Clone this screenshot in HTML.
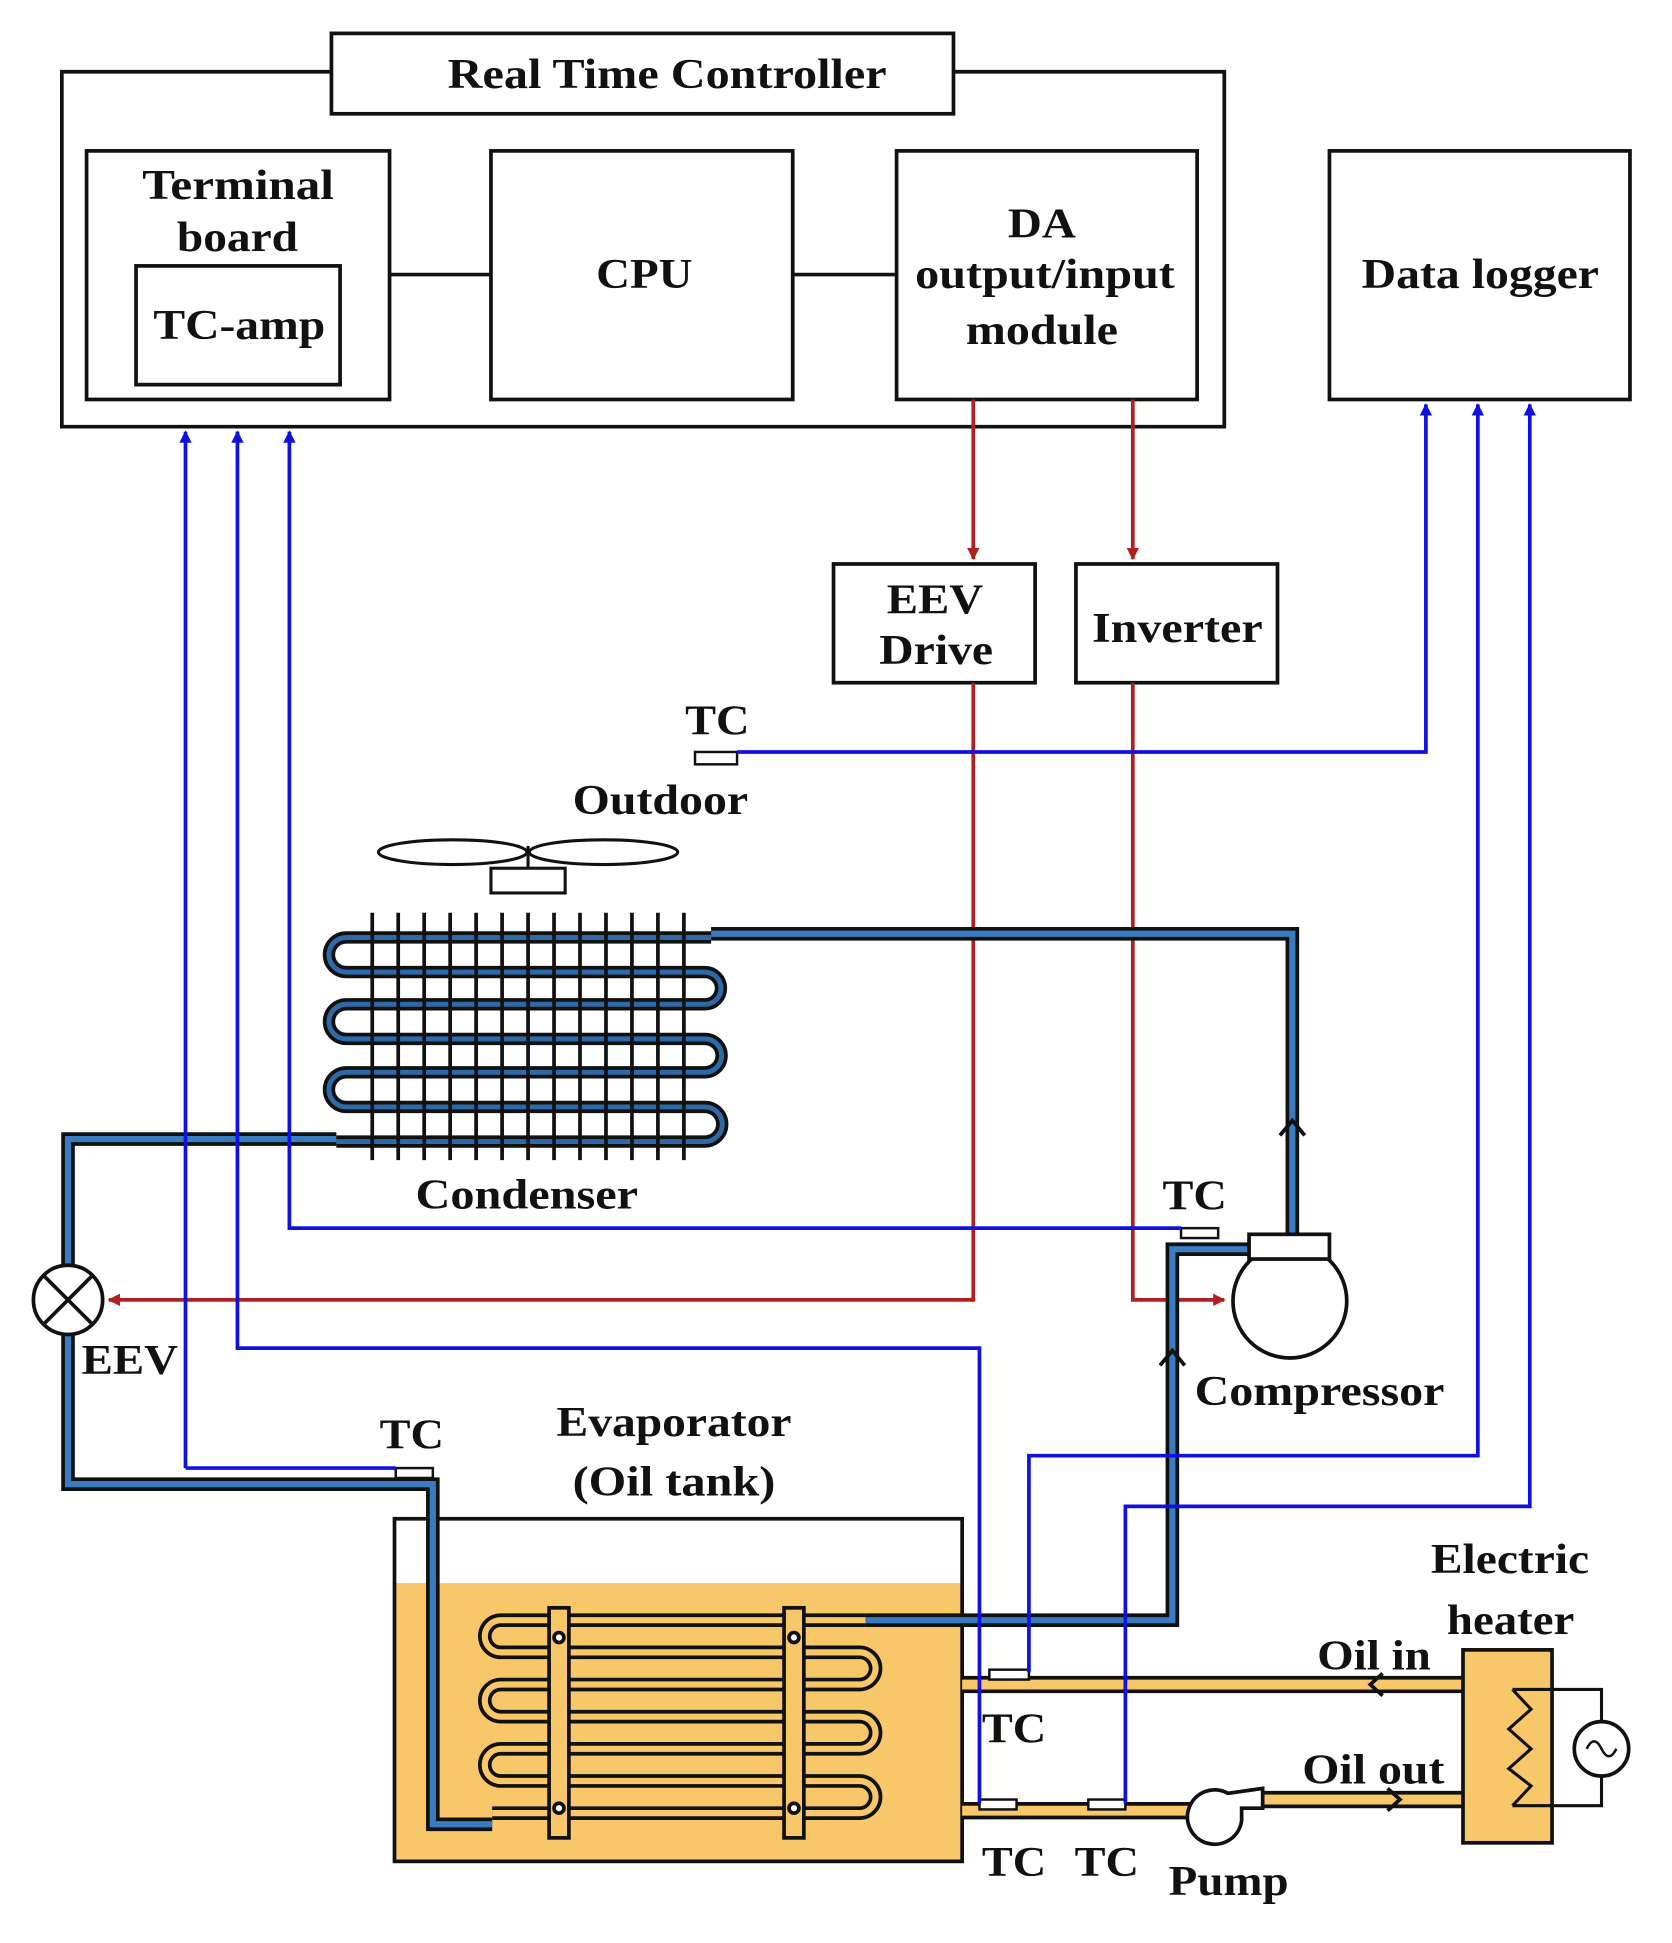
<!DOCTYPE html>
<html><head><meta charset="utf-8"><style>
html,body{margin:0;padding:0;background:#fff;}
svg{display:block;}
text{font-family:"Liberation Serif",serif;font-weight:bold;fill:#111;}
</style></head><body>
<svg width="1672" height="1943" viewBox="0 0 1352 1571" preserveAspectRatio="none" xmlns="http://www.w3.org/2000/svg">
<defs>
<marker id="ab" markerWidth="10" markerHeight="10" refX="9" refY="5" orient="auto" markerUnits="userSpaceOnUse"><path d="M0,0 L10,5 L0,10 Z" fill="#1010e0"/></marker>
<marker id="ar" markerWidth="10" markerHeight="10" refX="9" refY="5" orient="auto" markerUnits="userSpaceOnUse"><path d="M0,0 L10,5 L0,10 Z" fill="#b02020"/></marker>
</defs>
<g fill="none" stroke="#111" stroke-width="3">
<path d="M268,58 H50 V345 H990 V58 H771"/>
<rect x="268" y="27" width="503" height="65"/>
<rect x="70" y="122" width="245" height="201"/>
<rect x="110" y="215" width="165" height="96"/>
<rect x="397" y="122" width="244" height="201"/>
<rect x="725" y="122" width="243" height="201"/>
<rect x="1075" y="122" width="243" height="201"/>
<path d="M315,222 H397 M641,222 H725"/>
<rect x="674" y="456" width="163" height="96"/>
<rect x="870" y="456" width="163" height="96"/>
</g>
<g font-size="34" lengthAdjust="spacingAndGlyphs">
<text x="362" y="71" textLength="355" lengthAdjust="spacingAndGlyphs">Real Time Controller</text>
<text x="115" y="161" textLength="155" lengthAdjust="spacingAndGlyphs">Terminal</text>
<text x="143" y="203" textLength="98" lengthAdjust="spacingAndGlyphs">board</text>
<text x="124" y="274" textLength="139" lengthAdjust="spacingAndGlyphs">TC-amp</text>
<text x="482" y="233" textLength="78" lengthAdjust="spacingAndGlyphs">CPU</text>
<text x="815" y="192" textLength="55" lengthAdjust="spacingAndGlyphs">DA</text>
<text x="740" y="233" textLength="210" lengthAdjust="spacingAndGlyphs">output/input</text>
<text x="781" y="278" textLength="123" lengthAdjust="spacingAndGlyphs">module</text>
<text x="1101" y="233" textLength="192" lengthAdjust="spacingAndGlyphs">Data logger</text>
<text x="717" y="496" textLength="78" lengthAdjust="spacingAndGlyphs">EEV</text>
<text x="711" y="537" textLength="92" lengthAdjust="spacingAndGlyphs">Drive</text>
<text x="883" y="519" textLength="138" lengthAdjust="spacingAndGlyphs">Inverter</text>
<text x="554" y="594" textLength="52" lengthAdjust="spacingAndGlyphs">TC</text>
<text x="463" y="658" textLength="142" lengthAdjust="spacingAndGlyphs">Outdoor</text>
<text x="336" y="977" textLength="180" lengthAdjust="spacingAndGlyphs">Condenser</text>
<text x="940" y="978" textLength="52" lengthAdjust="spacingAndGlyphs">TC</text>
<text x="66" y="1111" textLength="78" lengthAdjust="spacingAndGlyphs">EEV</text>
<text x="966" y="1136" textLength="202" lengthAdjust="spacingAndGlyphs">Compressor</text>
<text x="307" y="1171" textLength="52" lengthAdjust="spacingAndGlyphs">TC</text>
<text x="450" y="1161" textLength="190" lengthAdjust="spacingAndGlyphs">Evaporator</text>
<text x="463" y="1209" textLength="164" lengthAdjust="spacingAndGlyphs">(Oil tank)</text>
<text x="1157" y="1272" textLength="128" lengthAdjust="spacingAndGlyphs">Electric</text>
<text x="1170" y="1321" textLength="103" lengthAdjust="spacingAndGlyphs">heater</text>
<text x="1065" y="1350" textLength="92" lengthAdjust="spacingAndGlyphs">Oil in</text>
<text x="1053" y="1442" textLength="115" lengthAdjust="spacingAndGlyphs">Oil out</text>
<text x="794" y="1409" textLength="52" lengthAdjust="spacingAndGlyphs">TC</text>
<text x="794" y="1517" textLength="52" lengthAdjust="spacingAndGlyphs">TC</text>
<text x="869" y="1517" textLength="52" lengthAdjust="spacingAndGlyphs">TC</text>
<text x="945" y="1532" textLength="97" lengthAdjust="spacingAndGlyphs">Pump</text>
</g>
<!-- red lines -->
<g fill="none" stroke="#b02020" stroke-width="3">
<path d="M787,323 V452" marker-end="url(#ar)"/>
<path d="M916,323 V452" marker-end="url(#ar)"/>
<path d="M787,552 V1051 H88" marker-end="url(#ar)"/>
<path d="M916,552 V1051 H990" marker-end="url(#ar)"/>
</g>
<!-- oil tank -->
<rect x="319" y="1280" width="459" height="225" fill="#f7c76a"/>
<rect x="319" y="1228" width="459" height="277" fill="none" stroke="#111" stroke-width="3"/>
<!-- evaporator coil -->
<g fill="none">
<path d="M700,1310 H405 A13,13 0 0 0 405,1336 H695 A13,13 0 0 1 695,1362 H405 A13,13 0 0 0 405,1388 H695 A13,13 0 0 1 695,1414 H405 A13,13 0 0 0 405,1440 H695 A13,13 0 0 1 695,1466 H398" stroke="#111" stroke-width="11"/>
<path d="M700,1310 H405 A13,13 0 0 0 405,1336 H695 A13,13 0 0 1 695,1362 H405 A13,13 0 0 0 405,1388 H695 A13,13 0 0 1 695,1414 H405 A13,13 0 0 0 405,1440 H695 A13,13 0 0 1 695,1466 H398" stroke="#f7c76a" stroke-width="5"/>
</g>
<g fill="#f7c76a" stroke="#111" stroke-width="3">
<rect x="444" y="1300" width="16" height="186"/>
<rect x="634" y="1300" width="16" height="186"/>
<circle cx="452" cy="1324" r="4" fill="#fff"/><circle cx="452" cy="1462" r="4" fill="#fff"/>
<circle cx="642" cy="1324" r="4" fill="#fff"/><circle cx="642" cy="1462" r="4" fill="#fff"/>
</g>
<!-- refrigerant pipes -->
<g fill="none">
<path d="M575,755 H1045 V1000 M1010,1010 H948 V1310 H700 M272,921 H55 V1200 H350 V1475 H398" stroke="#111" stroke-width="11"/>
<path d="M575,755 H1045 V1000 M1010,1010 H948 V1310 H700 M272,921 H55 V1200 H350 V1475 H398" stroke="#3a7cc0" stroke-width="5"/>
</g>
<path d="M1035,918 L1045,906 L1055,918 M938,1104 L948,1092 L958,1104" fill="none" stroke="#111" stroke-width="3"/>
<!-- condenser coil -->
<g fill="none">
<path d="M575,758 H280 A14,14 0 0 0 280,786 H570 A13,13 0 0 1 570,812 H280 A14,14 0 0 0 280,840 H570 A13.5,13.5 0 0 1 570,867 H280 A14,14 0 0 0 280,895 H570 A14,14 0 0 1 570,923 H272" stroke="#111" stroke-width="10"/>
<path d="M575,758 H280 A14,14 0 0 0 280,786 H570 A13,13 0 0 1 570,812 H280 A14,14 0 0 0 280,840 H570 A13.5,13.5 0 0 1 570,867 H280 A14,14 0 0 0 280,895 H570 A14,14 0 0 1 570,923 H272" stroke="#2f6aa8" stroke-width="4"/>
</g>
<g stroke="#111" stroke-width="3">
<path d="M301,738V938M322,738V938M343,738V938M364,738V938M385,738V938M406,738V938M427,738V938M448,738V938M469,738V938M490,738V938M511,738V938M532,738V938M553,738V938"/>
</g>
<!-- fan -->
<g fill="#fff" stroke="#111" stroke-width="2.5">
<ellipse cx="366" cy="689" rx="60" ry="10"/>
<ellipse cx="488" cy="689" rx="60" ry="10"/>
<path d="M427,684 V702"/>
<rect x="397" y="702" width="60" height="20"/>
</g>
<!-- EEV -->
<g stroke="#111" stroke-width="3" fill="#fff">
<circle cx="55" cy="1051" r="28"/>
<path d="M35,1031 L75,1071 M75,1031 L35,1071"/>
</g>
<!-- compressor -->
<g stroke="#111" stroke-width="3" fill="#fff">
<circle cx="1043" cy="1052" r="46"/>
<rect x="1010" y="998" width="65" height="20"/>
</g>
<!-- oil pipes -->
<g fill="none">
<path d="M778,1362 H1183 M778,1464 H990 M1010,1455 H1183" stroke="#111" stroke-width="14"/>
<path d="M778,1362 H1183 M778,1464 H990 M1010,1455 H1183" stroke="#f7c76a" stroke-width="8"/>
</g>
<path d="M1118,1353 L1108,1362 L1118,1371 M1122,1446 L1132,1455 L1122,1464" fill="none" stroke="#111" stroke-width="3"/>
<!-- pump -->
<path d="M993,1450 A22,22 0 1 0 1004,1472 V1462 H1021 V1446 Z" fill="#fff" stroke="#111" stroke-width="3"/>
<!-- heater -->
<rect x="1183" y="1334" width="72" height="156" fill="#f7c76a" stroke="#111" stroke-width="3"/>
<path d="M1223,1366 H1295 V1392 M1295,1436 V1460 H1223" fill="none" stroke="#111" stroke-width="2.5"/>
<path d="M1223,1366 L1238,1382 L1220,1398 L1238,1414 L1220,1430 L1238,1444 L1223,1460" fill="none" stroke="#111" stroke-width="2.5"/>
<circle cx="1295" cy="1414" r="22" fill="#fff" stroke="#111" stroke-width="3"/>
<path d="M1283,1414 Q1289,1402 1295,1414 T1307,1414" fill="none" stroke="#111" stroke-width="2"/>
<!-- TC sensors -->
<g fill="#fff" stroke="#111" stroke-width="2">
<rect x="562" y="608" width="34" height="10"/>
<rect x="955" y="993" width="30" height="8"/>
<rect x="320" y="1187" width="30" height="8"/>
<rect x="800" y="1350" width="32" height="8"/>
<rect x="792" y="1455" width="30" height="8"/>
<rect x="880" y="1455" width="30" height="8"/>
</g>
<!-- blue lines -->
<g fill="none" stroke="#1010e0" stroke-width="3">
<path d="M150,1187 H320 M150,1187 V349" marker-end="url(#ab)"/>
<path d="M792,1458 V1090 H192 V349" marker-end="url(#ab)"/>
<path d="M955,993 H234 V349" marker-end="url(#ab)"/>
<path d="M596,608 H1153 V327" marker-end="url(#ab)"/>
<path d="M832,1352 V1177 H1195 V327" marker-end="url(#ab)"/>
<path d="M910,1458 V1218 H1237 V327" marker-end="url(#ab)"/>
</g>
</svg>
</body></html>
